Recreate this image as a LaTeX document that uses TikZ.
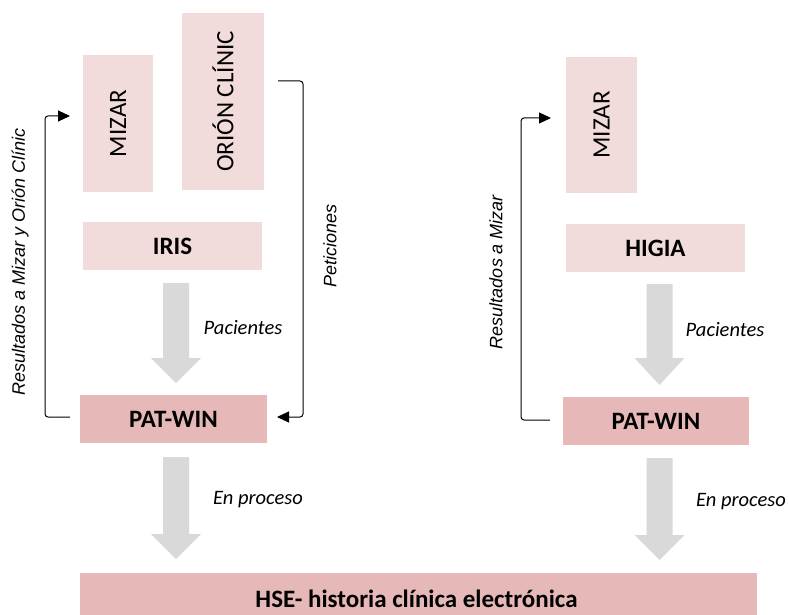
\documentclass[tikz,border=0pt]{standalone}
\usepackage{fontspec}
\setmainfont{Carlito}
\newfontfamily\lblfont{Liberation Sans}
\usetikzlibrary{arrows.meta}
\definecolor{pinkL}{HTML}{F2DCDB}
\definecolor{pinkD}{HTML}{E6B8B7}
\definecolor{grayA}{HTML}{D9D9D9}
\newcommand\myGrayArrow[4]{%
  \fill[grayA] (#1-13,#2) -- (#1+13,#2) -- (#1+13,#3) -- (#1+25,#3) -- (#1,#4) -- (#1-25,#3) -- (#1-13,#3) -- cycle;}
\begin{document}
\begin{tikzpicture}[x=1pt,y=-1pt,
  lbox/.style={fill=pinkL, draw=none, inner sep=0pt},
  dbox/.style={fill=pinkD, draw=none, inner sep=0pt},
  boldtxt/.style={font=\fontsize{25}{30}\selectfont\bfseries},
  regtxt/.style={font=\fontsize{25}{30}\selectfont},
  itxt/.style={font=\fontsize{20.5}{24}\selectfont\itshape, inner sep=0pt},
  rtxt/.style={font=\lblfont\fontsize{18}{22}\selectfont\itshape, inner sep=0pt},
  conn/.style={draw=black, line width=1pt, rounded corners=3pt},
  tip/.style={-{Triangle[length=12pt,width=11pt]}}]
\useasboundingbox (0,0) rectangle (789,615);
\fill[white] (0,0) rectangle (789,615);

% left column
\node[lbox, regtxt, minimum width=70pt, minimum height=137pt] (mizL) at (118,123.5) {\rotatebox{90}{MIZAR}};
\node[lbox, regtxt, minimum width=82pt, minimum height=177pt] (orion) at (223,101.5) {\rotatebox{90}{ORIÓN CLÍNIC}};
\node[lbox, boldtxt, minimum width=179pt, minimum height=48pt] (iris) at (172.5,246) {IRIS};
\node[dbox, boldtxt, minimum width=187pt, minimum height=48pt] (patL) at (173.5,419) {PAT-WIN};

% right column
\node[lbox, regtxt, minimum width=71pt, minimum height=136pt] (mizR) at (601.5,125) {\rotatebox{90}{MIZAR}};
\node[lbox, boldtxt, minimum width=179pt, minimum height=48pt] (higia) at (655.5,248) {HIGIA};
\node[dbox, boldtxt, minimum width=186pt, minimum height=48pt] (patR) at (656,421) {PAT-WIN};

% bottom
\node[dbox, minimum width=677pt, minimum height=46pt] (hse) at (418.5,596) {};
\node[boldtxt, inner sep=0pt] (hsetxt) at (416.5,599) {HSE- historia clínica electrónica};

% gray block arrows
\myGrayArrow{176}{283}{358}{383}
\myGrayArrow{176}{457}{534}{559}
\myGrayArrow{659.5}{284}{358}{385}
\myGrayArrow{659.5}{458}{535}{560}

% arrow labels
\node[itxt] (pacL) at (243,328) {Pacientes};
\node[itxt] (enpL) at (258,500) {En proceso};
\node[itxt] (pacR) at (725,330) {Pacientes};
\node[itxt] (enpR) at (741,502) {En proceso};

% connectors
\coordinate (r1s) at (70,417);
\coordinate (r1e) at (70,116);
\draw[conn, tip] (r1s) -- (45,417) -- (45,116) -- (r1e);
\coordinate (p1s) at (278,81);
\coordinate (p1e) at (277,417);
\draw[conn, tip] (p1s) -- (303,81) -- (303,417) -- (p1e);
\coordinate (r2s) at (550,420);
\coordinate (r2e) at (551,118);
\draw[conn, tip] (r2s) -- (521,420) -- (521,118) -- (r2e);

% connector labels
\node[rtxt] (resL) at (20,262) {\rotatebox{90}{Resultados a Mizar y Orión Clínic}};
\node[rtxt] (pet) at (330,246) {\rotatebox{90}{Peticiones}};
\node[rtxt] (resR) at (496,272) {\rotatebox{90}{Resultados a Mizar}};
\end{tikzpicture}
\end{document}
